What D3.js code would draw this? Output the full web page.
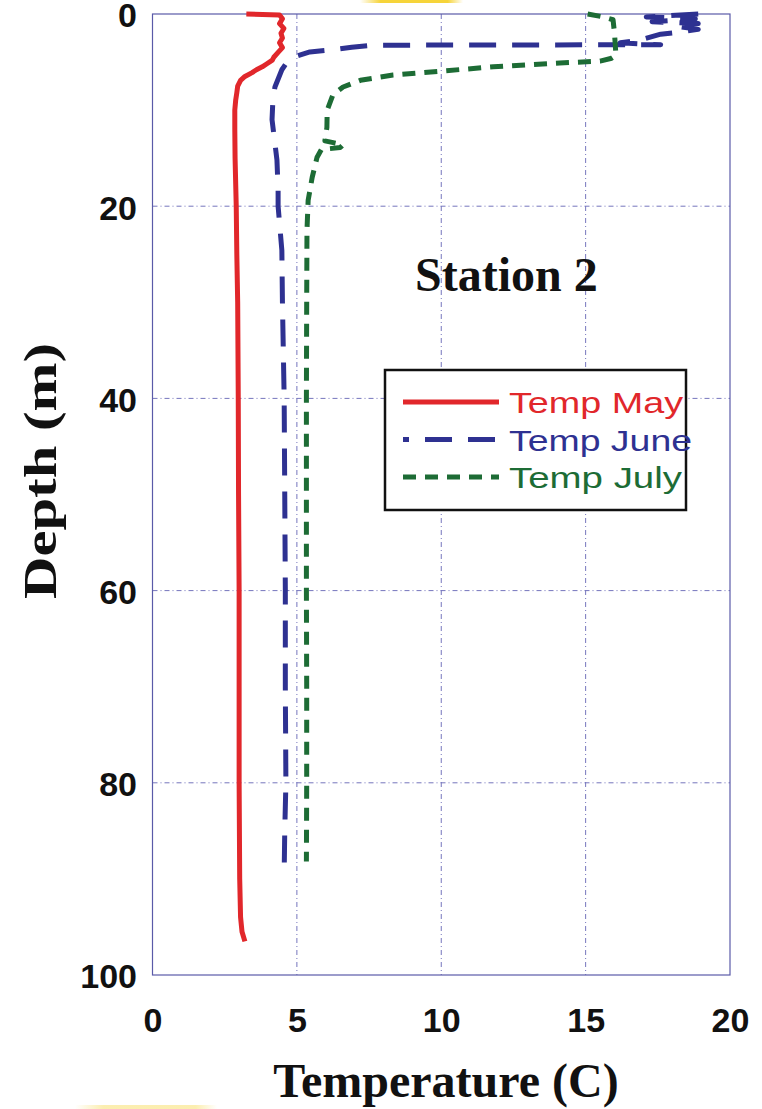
<!DOCTYPE html>
<html>
<head>
<meta charset="utf-8">
<script src="https://cdn.jsdelivr.net/npm/d3@7/dist/d3.min.js"></script>
<style>
  body { margin: 0; background: #fff; }
  svg { display: block; }
  .tick text { font-family: "Liberation Sans", Arial, sans-serif; font-weight: bold; font-size: 34px; fill: #111; }
  .title { font-family: "Liberation Serif", "Times New Roman", serif; font-weight: bold; fill: #111; }
  .legtext { font-family: "Liberation Sans", Arial, sans-serif; font-size: 30px; }
</style>
</head>
<body>
<div id="figzone"></div>
<script>
// depth (m) / temperature (C) read from the profiles
var mayDepth = [0, 0.1, 0.5, 1.0, 1.5, 2.0, 2.5, 3.0, 3.5, 4.0, 4.5, 4.8, 5.2, 5.5, 5.8, 6.1, 6.5, 6.9, 7.5, 8.2,
                9, 10, 12, 15, 20, 25, 30, 40, 50, 60, 70, 80, 90, 94, 95.5, 96.5];
var mayTemp  = [3.25, 4.4, 4.5, 4.4, 4.55, 4.45, 4.5, 4.4, 4.5, 4.35, 4.2, 4.15, 3.95, 3.8, 3.6, 3.45, 3.2, 3.05, 2.95, 2.92,
                2.88, 2.85, 2.85, 2.86, 2.9, 2.92, 2.95, 2.97, 2.98, 3.0, 3.0, 3.0, 3.02, 3.05, 3.1, 3.2];

var juneDepth = [0, 0.3, 0.5, 0.8, 1.0, 1.3, 1.6, 1.9, 2.1, 2.7, 3.0, 3.2, 3.22, 3.25, 3.45, 3.75, 3.95, 4.5, 5.0, 5.8,
                 7.6, 8.9, 11, 15.2, 18.3, 20, 24.6, 30, 40, 50, 60, 70, 80, 85, 89.4];
var juneTemp  = [18.9, 17.1, 18.8, 17.3, 18.9, 18.2, 18.9, 18.2, 17.6, 16.9, 16.2, 17.6, 12.0, 7.6, 6.9, 6.15, 5.45, 4.87, 4.66, 4.48,
                 4.24, 4.17, 4.14, 4.31, 4.35, 4.35, 4.48, 4.5, 4.56, 4.58, 4.6, 4.6, 4.62, 4.58, 4.56];

var julyDepth = [0, 0.3, 0.6, 2.0, 4.3, 4.6, 4.9, 5.1, 5.5, 5.95, 6.35, 6.9, 7.6, 8.4, 10, 11.8, 13.2, 13.6, 13.9, 14.1,
                 14.9, 17, 19.4, 22.5, 30, 40, 50, 60, 70, 80, 88.2];
var julyTemp  = [15.07, 15.6, 15.95, 16.0, 16.05, 15.9, 15.5, 14.1, 11.8, 9.96, 8.33, 7.2, 6.6, 6.25, 6.05, 6.04, 5.97, 6.6, 6.5, 5.85,
                 5.7, 5.53, 5.39, 5.35, 5.34, 5.33, 5.33, 5.33, 5.34, 5.34, 5.33];

var seriesNames = ["Temp May", "Temp June", "Temp July"];
var seriesColors = ["#e1272b", "#2e3191", "#1d6c35"];
var seriesDash = [null, "27,16", "13,9"];

var xTicks = [0, 5, 10, 15, 20];
var yTicks = [0, 20, 40, 60, 80, 100];

var svgWidth = 762, svgHeight = 1109;
var plotLeft = 152.5, plotTop = 14, plotRight = 730, plotBottom = 975;

var svg = d3.select("#figzone").append("svg").attr("width", svgWidth).attr("height", svgHeight);

// faint yellow scraps at the picture edges
var defs = svg.append("defs");
var gr = defs.append("linearGradient").attr("id", "yel");
gr.append("stop").attr("offset", "0%").attr("stop-color", "#f6d43a").attr("stop-opacity", 0);
gr.append("stop").attr("offset", "20%").attr("stop-color", "#f6d43a").attr("stop-opacity", 1);
gr.append("stop").attr("offset", "85%").attr("stop-color", "#f6d43a").attr("stop-opacity", 1);
gr.append("stop").attr("offset", "100%").attr("stop-color", "#f6d43a").attr("stop-opacity", 0);
svg.append("rect").attr("x", 360).attr("y", 0).attr("width", 103).attr("height", 3).attr("fill", "url(#yel)");
svg.append("rect").attr("x", 75).attr("y", 1105).attr("width", 142).attr("height", 4).attr("fill", "url(#yel)").attr("opacity", 0.4);

var x = d3.scaleLinear().domain([0, 20]).range([plotLeft, plotRight]);
var y = d3.scaleLinear().domain([0, 100]).range([plotTop, plotBottom]);

// grid
var gGrid = svg.append("g").attr("class", "grid");
gGrid.selectAll("line.v").data(xTicks.slice(1, -1)).enter().append("line")
    .attr("x1", function(d){ return x(d); }).attr("x2", function(d){ return x(d); })
    .attr("y1", plotTop).attr("y2", plotBottom)
    .style("stroke", "#7676bd").style("stroke-width", 1).style("stroke-dasharray", "5,3,1,3");
gGrid.selectAll("line.h").data(yTicks.slice(1, -1)).enter().append("line")
    .attr("y1", function(d){ return y(d); }).attr("y2", function(d){ return y(d); })
    .attr("x1", plotLeft).attr("x2", plotRight)
    .style("stroke", "#7676bd").style("stroke-width", 1).style("stroke-dasharray", "5,3,1,3");

svg.append("rect").attr("x", plotLeft).attr("y", plotTop)
    .attr("width", plotRight - plotLeft).attr("height", plotBottom - plotTop)
    .style("fill", "none").style("stroke", "#5a5aa8").style("stroke-width", 1.2);

// axes
var xAxis = d3.axisBottom(x).tickValues(xTicks).tickSize(0).tickPadding(33);
var yAxis = d3.axisLeft(y).tickValues(yTicks).tickSize(0).tickPadding(15.5);
svg.append("g").attr("transform", "translate(0," + plotBottom + ")").call(xAxis)
    .call(function(g){ g.select(".domain").remove(); });
svg.append("g").attr("transform", "translate(" + plotLeft + ",0)").call(yAxis)
    .call(function(g){ g.select(".domain").remove(); })
    .selectAll("text").attr("dy", "0.38em");

svg.append("text").attr("class", "title").attr("x", 446).attr("y", 1097)
    .attr("text-anchor", "middle").style("font-size", "48px").text("Temperature (C)");
svg.append("text").attr("class", "title").attr("transform", "translate(56,471) rotate(-90)")
    .attr("text-anchor", "middle").style("font-size", "47px")
    .attr("textLength", 256).attr("lengthAdjust", "spacingAndGlyphs").text("Depth (m)");
svg.append("text").attr("class", "title").attr("x", 415).attr("y", 291)
    .style("font-size", "48px").text("Station 2");

// profiles
var series = [
    d3.zip(mayTemp, mayDepth),
    d3.zip(juneTemp, juneDepth),
    d3.zip(julyTemp, julyDepth)
];
var line = d3.line().x(function(d){ return x(d[0]); }).y(function(d){ return y(d[1]); });

var gLine = svg.append("g").attr("class", "lines");
gLine.selectAll("path").data(series).enter().append("path")
    .attr("d", line)
    .style("fill", "none")
    .style("stroke", function(d, i){ return seriesColors[i]; })
    .style("stroke-width", 5)
    .style("stroke-linejoin", "round")
    .style("stroke-dasharray", function(d, i){ return seriesDash[i]; });

// legend
var legWidths = [174, 183, 173];
var gLeg = svg.append("g").attr("class", "legend");
gLeg.append("rect").attr("x", 385).attr("y", 370).attr("width", 301).attr("height", 140)
    .style("fill", "#fff").style("stroke", "#111").style("stroke-width", 2.5);
var legRows = gLeg.selectAll("g.row").data(seriesNames).enter().append("g")
    .attr("transform", function(d, i){ return "translate(0," + (402 + i * 37.5) + ")"; });
legRows.append("line").attr("x1", 403).attr("x2", 499).attr("y1", 0).attr("y2", 0)
    .style("stroke", function(d, i){ return seriesColors[i]; })
    .style("stroke-width", 5)
    .style("stroke-dasharray", function(d, i){ return seriesDash[i]; })
    .style("stroke-dashoffset", function(d, i){ return i == 1 ? 21 : 0; });
legRows.append("text").attr("class", "legtext").attr("x", 509).attr("y", 11)
    .attr("textLength", function(d, i){ return legWidths[i]; })
    .attr("lengthAdjust", "spacingAndGlyphs")
    .style("fill", function(d, i){ return seriesColors[i]; })
    .text(function(d){ return d; });
</script>
</body>
</html>
